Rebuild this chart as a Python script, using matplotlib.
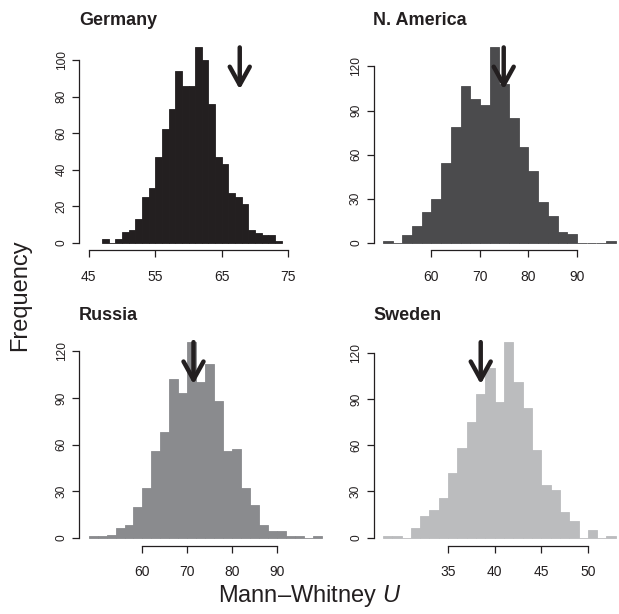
import numpy as np
import matplotlib.pyplot as plt

plt.rcParams['font.family'] = ['Liberation Sans', 'DejaVu Sans']
plt.rcParams['mathtext.fontset'] = 'custom'
plt.rcParams['mathtext.rm'] = 'Liberation Sans'
plt.rcParams['mathtext.it'] = 'Liberation Sans:italic'

# --- data (null distributions of U, counts per bin) ---
countries = ["Germany", "N. America", "Russia", "Sweden"]

germany_start, germany_width = 47, 1
germany_counts = [2, 0, 2, 6, 7, 13, 25, 30, 47, 62, 73, 94, 86, 86, 107, 100,
                  76, 47, 43, 27, 25, 21, 7, 5, 4, 4, 1]

namerica_start, namerica_width = 50, 2
namerica_counts = [1, 0, 5, 11, 21, 30, 54, 79, 107, 98, 94, 133, 108, 85, 65,
                   49, 28, 18, 7, 6, 0, 0, 0, 1]

russia_start, russia_width = 48, 2
russia_counts = [1, 1, 2, 6, 8, 20, 32, 56, 68, 102, 93, 126, 100, 112, 88, 56,
                 57, 32, 21, 8, 4, 4, 1, 1, 0, 1]

sweden_start, sweden_width = 28, 1
sweden_counts = [1, 1, 0, 6, 14, 18, 26, 42, 58, 75, 93, 110, 88, 127, 101, 84,
                 57, 34, 31, 17, 11, 0, 5, 0, 1]

observed_u = [67.7, 74.9, 71.4, 38.5]

x_ticks = [[45, 55, 65, 75], [60, 70, 80, 90], [60, 70, 80, 90], [35, 40, 45, 50]]
y_ticks = [[0, 20, 40, 60, 80, 100], [0, 30, 60, 90, 120],
           [0, 30, 60, 90, 120], [0, 30, 60, 90, 120]]
x_ranges = [(45, 80), (50, 98), (48, 100), (28, 53)]

fills = ["#231f20", "#4b4b4d", "#8a8b8e", "#bbbcbe"]
arrow_col = "#231f20"

hists = [(germany_start, germany_width, germany_counts),
         (namerica_start, namerica_width, namerica_counts),
         (russia_start, russia_width, russia_counts),
         (sweden_start, sweden_width, sweden_counts)]

# --- layout in pixels ---
W, H = 619, 614
PW = 251.5
boxes = [(79.4, 39.6, 250.4), (373.6, 39.6, 250.4),
         (79.4, 334.3, 545.5), (373.6, 334.3, 545.5)]

fig = plt.figure(figsize=(W / 100, H / 100), dpi=100)

for i, name in enumerate(countries):
    left, top, bottom = boxes[i]
    start, width, counts = hists[i]
    counts = np.array(counts)
    edges = start + width * np.arange(len(counts))

    # R-style 4% axis extension
    x0, x1 = x_ranges[i]
    xl = (x0 - 0.04 * (x1 - x0), x1 + 0.04 * (x1 - x0))
    ymax = counts.max()
    yl = (-0.04 * ymax, 1.04 * ymax)

    right = left + PW
    if right > W:
        xl = (xl[0], xl[0] + (xl[1] - xl[0]) * (W - left) / PW)
        right = W

    ax = fig.add_axes([left / W, 1 - bottom / H, (right - left) / W, (bottom - top) / H])
    ax.bar(edges, counts, width=width, align='edge', color=fills[i],
           edgecolor=fills[i], linewidth=0.6)
    ax.set_xlim(*xl)
    ax.set_ylim(*yl)

    for s in ['top', 'right']:
        ax.spines[s].set_visible(False)
    ax.spines['left'].set_bounds(y_ticks[i][0], y_ticks[i][-1])
    ax.spines['bottom'].set_bounds(x_ticks[i][0], x_ticks[i][-1])
    for s in ['left', 'bottom']:
        ax.spines[s].set_linewidth(0.9)
        ax.spines[s].set_color('#231f20')

    ax.set_xticks(x_ticks[i])
    ax.set_yticks(y_ticks[i])
    ax.tick_params(axis='x', direction='out', length=4.8, width=0.9,
                   labelsize=10, pad=9.5, colors='#231f20')
    ax.tick_params(axis='y', direction='out', length=4.8, width=0.9,
                   labelsize=8.6, pad=3.5, colors='#231f20')
    for lab in ax.get_yticklabels():
        lab.set_rotation(90)
        lab.set_va('center')

    # observed U arrow
    ax.annotate('', xy=(observed_u[i], 0.785 * ymax), xytext=(observed_u[i], ymax),
                arrowprops=dict(arrowstyle='->,head_length=1.3,head_width=0.72',
                                lw=3.2, color=arrow_col, shrinkA=0, shrinkB=0,
                                capstyle='round', joinstyle='round'))

    fig.text((left - 0.5) / W, 1 - (top - 14.5) / H, name, fontsize=13,
             fontweight='bold', ha='left', va='baseline', color='#231f20')

fig.text(20 / W, 1 - 295 / H, 'Frequency', rotation=90, fontsize=17,
         ha='center', va='center', color='#231f20')
fig.text(310 / W, 1 - 602 / H, 'Mann–Whitney $U$', fontsize=17,
         ha='center', va='baseline', color='#231f20')

fig.savefig('out.png', dpi=100, facecolor='white')
